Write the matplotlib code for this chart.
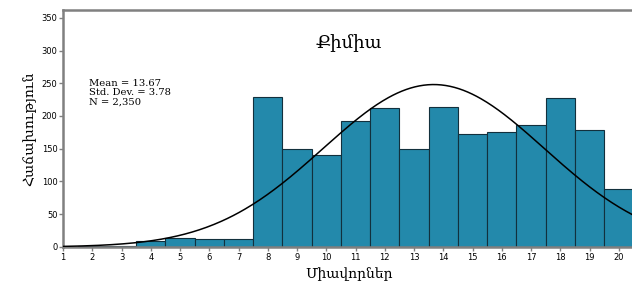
import numpy as np
import matplotlib
matplotlib.use("Agg")
import matplotlib.pyplot as plt

# Histogram data (score bins 1..20)
scores = list(range(1, 21))
counts = [0, 1, 1, 9, 13, 12, 12, 229, 149, 141, 192, 212, 149, 214, 172, 176, 186, 228, 179, 89]
mean_val = 13.67
std_val = 3.78
n_total = 2350

title = "Քիմիա"
xlabel = "Միավորներ"
ylabel = "Հաճախություն"
yticks = [0, 50, 100, 150, 200, 250, 300, 350]

fig = plt.figure(figsize=(6.32, 2.86), dpi=100)
ax = fig.add_axes([0.0997, 0.1364, 0.905, 0.829])

ax.bar(scores, counts, width=1.0, color="#2389ab", edgecolor="#12303d", linewidth=0.8, zorder=2)

# fitted normal curve
xs = np.linspace(1, 21, 400)
pdf = n_total / (std_val * np.sqrt(2 * np.pi)) * np.exp(-0.5 * ((xs - mean_val) / std_val) ** 2)
ax.plot(xs, pdf, color="black", linewidth=1.1, zorder=3)

ax.set_xlim(1, 20.55)
ax.set_ylim(0, 362)
ax.set_xticks(scores)
ax.set_yticks(yticks)
ax.tick_params(axis="both", labelsize=6, colors="#808080", labelcolor="black", length=3, width=1, pad=1)

for side in ["left", "bottom", "top"]:
    ax.spines[side].set_color("#808080")
    ax.spines[side].set_linewidth(1.8)
ax.spines["right"].set_visible(False)

ax.text(0.5, 0.86, title, transform=ax.transAxes, ha="center", va="center",
        fontsize=13, family="DejaVu Serif")
ax.text(0.045, 0.71, "Mean = 13.67\nStd. Dev. = 3.78\nN = 2,350", transform=ax.transAxes,
        ha="left", va="top", fontsize=7.2, family="DejaVu Serif", linespacing=1.1)

ax.set_xlabel(xlabel, fontsize=10, family="DejaVu Serif", labelpad=4)
ax.set_ylabel(ylabel, fontsize=10, family="DejaVu Serif", labelpad=4)

fig.savefig("out.png", dpi=100)
